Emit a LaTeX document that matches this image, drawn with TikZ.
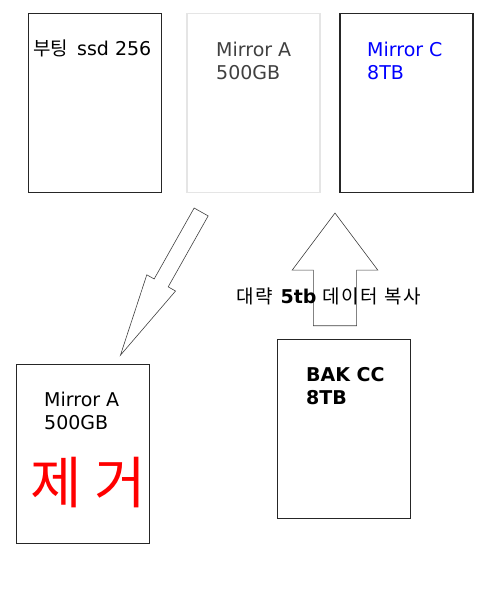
\documentclass[tikz,border=0pt]{standalone}
\usepackage{fontspec}
\setmainfont{DejaVu Sans}
\newfontfamily\kr{Noto Sans CJK KR}
\newfontfamily\krwide[LetterSpace=9]{Noto Sans CJK KR}
\usetikzlibrary{shapes.arrows}

\begin{document}
\begin{tikzpicture}[x=1pt,y=-1pt,
	main_node/.style={rectangle,draw=black!85,line width=1.2pt,minimum width=133pt,minimum height=179pt,inner sep=0pt},
	disk_text/.style={anchor=north west,inner sep=0pt,align=left,font=\fontsize{19}{23}\selectfont},
	block_arrow/.style={single arrow,draw=black!75,line width=0.6pt,inner xsep=0pt,anchor=tail}]
	\useasboundingbox (0,0) rectangle (486,603);

	% disks on top
	\node[main_node] (boot) at (95,103){};
	\node[main_node,draw=black!10] (mirrorA) at (253.5,103){};
	\node[main_node] (mirrorC) at (406.5,103){};

	\node[anchor=base west,inner sep=0pt,font=\fontsize{19}{23}\selectfont] (bootlabel) at (33,55){{\kr 부팅}\hspace{9pt}ssd 256};
	\node[disk_text,text=black!75] (mirrorAlabel) at (216,42){Mirror A\\500GB};
	\node[disk_text,text=blue] (mirrorClabel) at (367,42){Mirror C\\8TB};

	% disks below
	\node[main_node] (removed) at (83,454){};
	\node[main_node] (bakcc) at (344,429){};

	\node[disk_text] (removedlabel) at (44,392){Mirror A\\500GB};
	\node[anchor=base west,inner sep=0pt,text=red,font=\kr\fontsize{56}{60}\selectfont] (removedmark) at (30,503){제 거};
	\node[disk_text,font=\bfseries\fontsize{19}{23}\selectfont] (bakcclabel) at (306,367){BAK CC\\8TB};

	% big arrows, placed by their tail, shaft width = 2*inner ysep
	\node[block_arrow,rotate=240.6,minimum height=164.4pt,inner ysep=7.75pt,
		single arrow head extend=8.45pt,single arrow tip angle=22.5] (move) at (201.3,211.7){};
	\node[block_arrow,rotate=90,minimum height=112.7pt,inner ysep=21.35pt,
		single arrow head extend=21.2pt,single arrow tip angle=73.7] (copy) at (335,326){};

	\node[anchor=base west,inner sep=0pt,font=\fontsize{19}{23}\selectfont] (copylabel) at (236,303)
		{{\krwide 대략} \textbf{5tb} {\krwide 데이터 복사}};
\end{tikzpicture}
\end{document}
